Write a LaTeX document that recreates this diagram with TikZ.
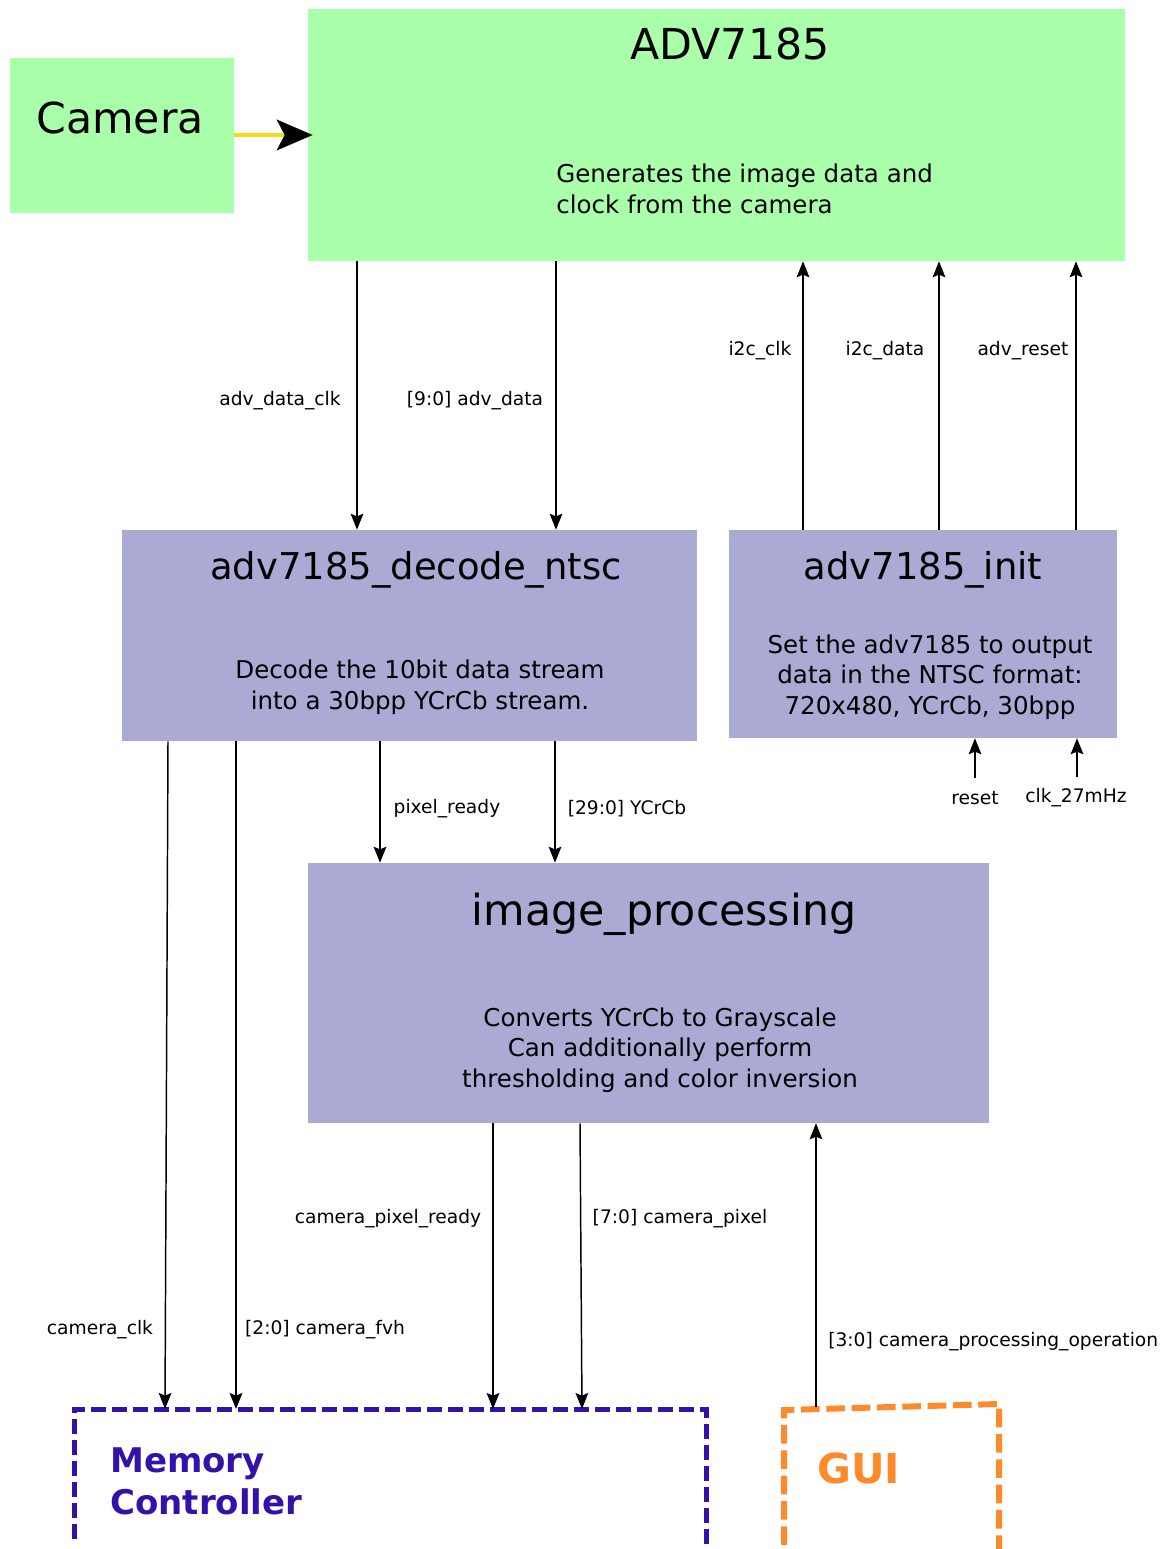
\documentclass[tikz,border=0pt]{standalone}
\usepackage{fontspec}
\setmainfont{DejaVu Sans}
\usetikzlibrary{arrows.meta,fit}
\definecolor{boxgreen}{HTML}{AAFFAA}
\definecolor{boxblue}{HTML}{AAAAD4}
\definecolor{memcol}{HTML}{3311AA}
\definecolor{guicol}{HTML}{FF8A2A}
\definecolor{camline}{HTML}{F2DC1E}
\begin{document}
\begin{tikzpicture}[x=0.75pt,y=-0.75pt,
  gbox/.style={fill=boxgreen,draw=none,inner sep=0pt},
  bbox/.style={fill=boxblue,draw=none,inner sep=0pt},
  titletext/.style={font=\fontsize{32}{38}\selectfont,inner sep=0pt},
  subtitle/.style={font=\fontsize{27.7}{33}\selectfont,inner sep=0pt},
  bodytext/.style={font=\fontsize{18.4}{22.9}\selectfont,inner sep=0pt},
  lbl/.style={font=\fontsize{14}{16}\selectfont,inner sep=0pt},
  sig/.style={draw=black,line width=1.1pt,-{Stealth[length=12pt,width=9.5pt,inset=2pt]}},
  membox/.style={draw=memcol,line width=3.75pt,dash pattern=on 11.25pt off 4.5pt},
  guibox/.style={draw=guicol,line width=4.5pt,dash pattern=on 14pt off 5pt}]
\useasboundingbox (0,0) rectangle (1162,1549);

% boxes
\node[gbox,fit={(10,58) (234,213)}] (cam) {};
\node[gbox,fit={(308,9) (1125,261)}] (adv) {};
\node[bbox,fit={(122,530) (697,741)}] (dec) {};
\node[bbox,fit={(729,530) (1117,738)}] (init) {};
\node[bbox,fit={(308,863) (989,1123)}] (img) {};

% box texts
\node[titletext] (camT) at (120,118) {Camera};
\node[titletext] (advT) at (730,44) {ADV7185};
\node[bodytext,align=left,anchor=west] (advB) at (556,189) {Generates the image data and\\clock from the camera};
\node[subtitle] (decT) at (416,570) {adv7185\_decode\_ntsc};
\node[bodytext,align=center] (decB) at (420,687) {Decode the 10bit data stream\\into a 30bpp YCrCb stream.};
\node[subtitle] (initT) at (923,570) {adv7185\_init};
\node[bodytext,align=center] (initB) at (930,677) {Set the adv7185 to output\\data in the NTSC format:\\720x480, YCrCb, 30bpp};
\node[titletext] (imgT) at (664,914) {image\_processing};
\node[bodytext,align=center] (imgB) at (660,1050) {Converts YCrCb to Grayscale\\Can additionally perform\\thresholding and color inversion};

% memory controller and GUI (open at bottom)
\coordinate (memTL) at (74,1409);
\coordinate (memTR) at (706,1409);
\draw[membox] (74,1539) -- (memTL) -- (memTR) -- (706,1549);
\node[font=\fontsize{25.5}{31.5}\selectfont\bfseries,text=memcol,align=left,anchor=west,inner sep=0pt] (memT) at (110,1481) {Memory\\Controller};
\coordinate (guiTL) at (784,1410);
\coordinate (guiTR) at (999,1404);
\draw[guibox] (784,1545) -- (guiTL) -- (guiTR) -- (999,1549);
\node[font=\fontsize{31}{36}\selectfont\bfseries,text=guicol,anchor=west,inner sep=0pt] (guiT) at (817,1468) {GUI};

% camera -> ADV
\draw[draw=camline,line width=2.3pt,-{Stealth[length=27pt,width=23pt,inset=6pt,color=black]},shorten >=-3.75pt] (cam.east |- 0,135) -- (adv.west |- 0,135);

% ADV -> decode
\draw[sig] (357,0 |- adv.south) -- (357,0 |- dec.north);
\draw[sig] (556,0 |- adv.south) -- (556,0 |- dec.north);
\node[lbl] (l1) at (280,401) {adv\_data\_clk};
\node[lbl] (l2) at (475,401) {[9:0] adv\_data};

% init -> ADV
\draw[sig] (803,0 |- init.north) -- (803,0 |- adv.south);
\draw[sig] (939,0 |- init.north) -- (939,0 |- adv.south);
\draw[sig] (1076,0 |- init.north) -- (1076,0 |- adv.south);
\node[lbl] (l3) at (760,351) {i2c\_clk};
\node[lbl] (l4) at (885,351) {i2c\_data};
\node[lbl] (l5) at (1023,351) {adv\_reset};

% inputs to init
\coordinate (rstIn) at (975,778);
\coordinate (clkIn) at (1077,777);
\draw[sig] (rstIn) -- (975,0 |- init.south);
\draw[sig] (clkIn) -- (1077,0 |- init.south);
\node[lbl] (l6) at (975,798) {reset};
\node[lbl] (l7) at (1076,798) {clk\_27mHz};

% decode -> image_processing
\draw[sig] (380,0 |- dec.south) -- (380,0 |- img.north);
\draw[sig] (555,0 |- dec.south) -- (555,0 |- img.north);
\node[lbl] (l8) at (447,809) {pixel\_ready};
\node[lbl] (l9) at (627,809) {[29:0] YCrCb};

% decode -> memory
\draw[sig] (168,0 |- dec.south) -- (165,0 |- memTL);
\draw[sig] (236,0 |- dec.south) -- (236,0 |- memTL);
\node[lbl] (l10) at (100,1330) {camera\_clk};
\node[lbl] (l11) at (325,1330) {[2:0] camera\_fvh};

% image_processing -> memory
\draw[sig] (493,0 |- img.south) -- (493,0 |- memTL);
\draw[sig] (580,0 |- img.south) -- (582,0 |- memTL);
\node[lbl] (l12) at (388,1219) {camera\_pixel\_ready};
\node[lbl] (l13) at (680,1219) {[7:0] camera\_pixel};

% GUI -> image_processing
\draw[sig] (816,1407) -- (816,0 |- img.south);
\node[lbl,anchor=west] (l14) at (828,1342) {[3:0] camera\_processing\_operation};
\end{tikzpicture}
\end{document}
